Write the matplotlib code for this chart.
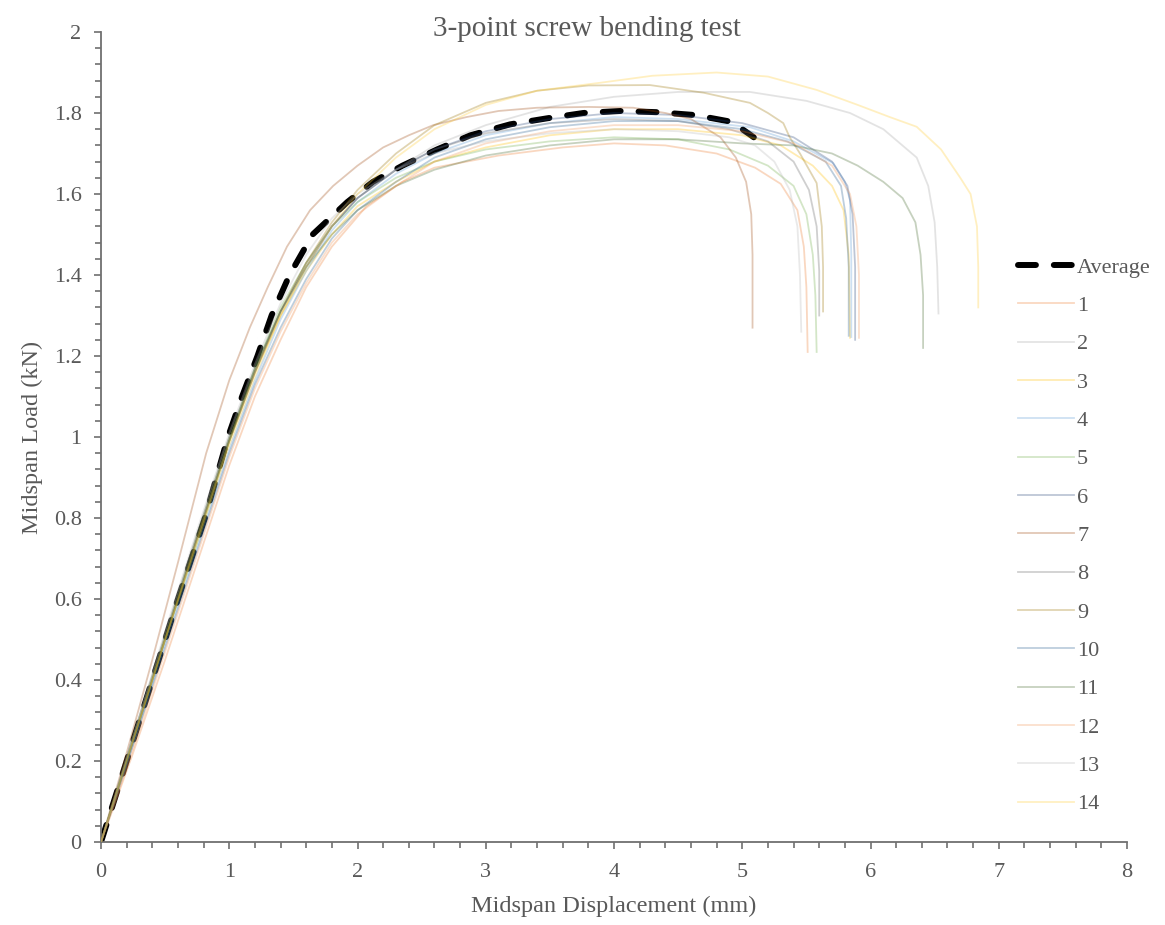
import matplotlib
matplotlib.use('Agg')
from matplotlib import pyplot as plt
from matplotlib.ticker import MultipleLocator, FuncFormatter

matplotlib.rcParams.update({'font.family': 'Liberation Serif', 'font.size': 16})
TXT   = '#595959'
ALPHA = 0.3

title  = '3-point screw bending test'
xlabel = 'Midspan Displacement (mm)'
ylabel = 'Midspan Load (kN)'

# Average curve
avg_x = [0, 0.2, 0.4, 0.6, 0.81, 0.99, 1.1, 1.22, 1.33, 1.47, 1.65, 1.92, 2.12, 2.35,
         2.62, 2.88, 3.19, 3.48, 3.76, 4.05, 4.34, 4.63, 4.92, 5.09]
avg_y = [0, 0.2, 0.4, 0.6, 0.8, 1.0, 1.1, 1.2, 1.3, 1.4, 1.5, 1.58, 1.63, 1.67,
         1.71, 1.745, 1.772, 1.787, 1.80, 1.805, 1.802, 1.795, 1.778, 1.74]

# Individual specimens (x = displacement mm, y = load kN)
t1_x  = [0, 0.25, 0.5, 0.75, 1.0, 1.2, 1.4, 1.6, 1.8, 2.07, 2.35, 2.6, 3.1, 3.6, 4.0, 4.4, 4.8, 5.1, 5.3, 5.43, 5.48, 5.5, 5.51]
t1_y  = [0, 0.22, 0.45, 0.69, 0.93, 1.1, 1.24, 1.37, 1.47, 1.57, 1.63, 1.665, 1.695, 1.715, 1.725, 1.72, 1.70, 1.665, 1.625, 1.56, 1.47, 1.37, 1.21]
t2_x  = [0, 0.25, 0.5, 0.75, 1.0, 1.2, 1.4, 1.6, 1.8, 2.0, 2.3, 2.6, 3.0, 3.5, 4.0, 4.5, 5.06, 5.5, 5.84, 6.1, 6.36, 6.45, 6.5, 6.52, 6.53]
t2_y  = [0, 0.25, 0.5, 0.75, 0.99, 1.16, 1.30, 1.42, 1.52, 1.59, 1.66, 1.72, 1.77, 1.815, 1.84, 1.852, 1.852, 1.83, 1.80, 1.76, 1.69, 1.62, 1.53, 1.42, 1.305]
t3_x  = [0, 0.25, 0.5, 0.75, 1.0, 1.2, 1.4, 1.6, 1.8, 2.0, 2.3, 2.6, 3.0, 3.5, 4.0, 4.5, 5.0, 5.3, 5.55, 5.7, 5.79, 5.83, 5.84]
t3_y  = [0, 0.25, 0.5, 0.75, 0.99, 1.16, 1.30, 1.41, 1.50, 1.57, 1.63, 1.68, 1.715, 1.745, 1.76, 1.76, 1.745, 1.72, 1.67, 1.62, 1.56, 1.45, 1.245]
t4_x  = [0, 0.25, 0.5, 0.75, 1.0, 1.2, 1.4, 1.6, 1.8, 2.0, 2.3, 2.6, 3.0, 3.5, 4.0, 4.5, 5.06, 5.4, 5.71, 5.8, 5.84, 5.85, 5.85]
t4_y  = [0, 0.24, 0.49, 0.73, 0.97, 1.14, 1.29, 1.41, 1.51, 1.58, 1.65, 1.70, 1.745, 1.775, 1.79, 1.785, 1.765, 1.73, 1.676, 1.63, 1.585, 1.45, 1.247]
t5_x  = [0, 0.25, 0.5, 0.75, 1.0, 1.2, 1.4, 1.6, 1.8, 2.0, 2.3, 2.6, 3.0, 3.5, 4.0, 4.5, 4.9, 5.2, 5.4, 5.5, 5.55, 5.57, 5.58]
t5_y  = [0, 0.25, 0.50, 0.74, 0.99, 1.17, 1.32, 1.43, 1.52, 1.58, 1.64, 1.68, 1.71, 1.73, 1.74, 1.735, 1.71, 1.67, 1.62, 1.55, 1.45, 1.35, 1.21]
t6_x  = [0, 0.25, 0.5, 0.75, 1.0, 1.2, 1.4, 1.6, 1.8, 2.0, 2.3, 2.6, 3.0, 3.5, 4.0, 4.5, 5.0, 5.4, 5.7, 5.82, 5.86, 5.88, 5.88]
t6_y  = [0, 0.25, 0.50, 0.75, 0.99, 1.16, 1.31, 1.42, 1.52, 1.59, 1.66, 1.71, 1.755, 1.785, 1.80, 1.795, 1.775, 1.74, 1.68, 1.62, 1.55, 1.42, 1.24]
t7_x  = [0, 0.2, 0.4, 0.6, 0.82, 1.0, 1.16, 1.3, 1.45, 1.63, 1.81, 2.0, 2.2, 2.4, 2.59, 2.85, 3.1, 3.4, 3.8, 4.15, 4.4, 4.6, 4.83, 4.95, 5.03, 5.07, 5.08, 5.08]
t7_y  = [0, 0.22, 0.45, 0.69, 0.96, 1.14, 1.27, 1.37, 1.47, 1.56, 1.62, 1.67, 1.715, 1.745, 1.77, 1.79, 1.805, 1.813, 1.815, 1.813, 1.80, 1.785, 1.74, 1.69, 1.63, 1.55, 1.45, 1.27]
t8_x  = [0, 0.25, 0.5, 0.75, 1.0, 1.2, 1.4, 1.6, 1.8, 2.0, 2.3, 2.6, 3.0, 3.5, 4.0, 4.5, 4.9, 5.2, 5.4, 5.52, 5.58, 5.6, 5.6]
t8_y  = [0, 0.26, 0.51, 0.76, 1.0, 1.17, 1.31, 1.43, 1.52, 1.59, 1.66, 1.71, 1.75, 1.775, 1.785, 1.78, 1.76, 1.73, 1.68, 1.61, 1.52, 1.41, 1.30]
t9_x  = [0, 0.25, 0.5, 0.75, 1.0, 1.2, 1.4, 1.6, 1.8, 2.0, 2.3, 2.6, 3.0, 3.4, 3.8, 4.28, 4.7, 5.06, 5.2, 5.32, 5.37, 5.45, 5.58, 5.62, 5.63, 5.63]
t9_y  = [0, 0.25, 0.5, 0.75, 0.99, 1.16, 1.31, 1.43, 1.53, 1.61, 1.70, 1.77, 1.825, 1.855, 1.868, 1.869, 1.85, 1.825, 1.80, 1.775, 1.74, 1.70, 1.627, 1.52, 1.42, 1.31]
t10_x = [0, 0.25, 0.5, 0.75, 1.0, 1.2, 1.4, 1.6, 1.8, 2.0, 2.3, 2.6, 3.0, 3.5, 4.0, 4.5, 5.0, 5.35, 5.65, 5.77, 5.81, 5.83, 5.83]
t10_y = [0, 0.24, 0.48, 0.72, 0.96, 1.13, 1.27, 1.39, 1.49, 1.56, 1.63, 1.69, 1.735, 1.765, 1.78, 1.78, 1.76, 1.73, 1.68, 1.62, 1.54, 1.42, 1.25]
t11_x = [0, 0.25, 0.5, 0.75, 1.0, 1.2, 1.4, 1.6, 1.8, 2.0, 2.3, 2.6, 3.0, 3.5, 4.0, 4.5, 5.0, 5.4, 5.7, 5.9, 6.1, 6.25, 6.35, 6.39, 6.41, 6.41]
t11_y = [0, 0.26, 0.51, 0.76, 1.0, 1.17, 1.31, 1.42, 1.50, 1.56, 1.62, 1.66, 1.695, 1.72, 1.735, 1.735, 1.725, 1.72, 1.70, 1.67, 1.63, 1.59, 1.53, 1.45, 1.35, 1.22]
t12_x = [0, 0.25, 0.5, 0.75, 1.0, 1.2, 1.4, 1.6, 1.8, 2.0, 2.3, 2.6, 3.0, 3.5, 4.0, 4.5, 5.0, 5.4, 5.7, 5.84, 5.89, 5.91, 5.91]
t12_y = [0, 0.23, 0.47, 0.71, 0.95, 1.12, 1.26, 1.38, 1.48, 1.55, 1.62, 1.68, 1.725, 1.755, 1.77, 1.77, 1.755, 1.725, 1.67, 1.60, 1.52, 1.40, 1.245]
t13_x = [0, 0.25, 0.5, 0.75, 1.0, 1.2, 1.4, 1.6, 1.8, 2.0, 2.3, 2.6, 3.0, 3.5, 4.0, 4.5, 4.9, 5.1, 5.25, 5.37, 5.43, 5.45, 5.46]
t13_y = [0, 0.26, 0.52, 0.77, 1.01, 1.18, 1.33, 1.45, 1.54, 1.60, 1.66, 1.70, 1.73, 1.75, 1.76, 1.755, 1.74, 1.72, 1.68, 1.61, 1.52, 1.40, 1.26]
t14_x = [0, 0.25, 0.5, 0.75, 1.0, 1.2, 1.4, 1.6, 1.8, 2.0, 2.3, 2.6, 3.0, 3.4, 3.9, 4.3, 4.8, 5.2, 5.58, 5.9, 6.15, 6.36, 6.55, 6.7, 6.78, 6.83, 6.84, 6.84]
t14_y = [0, 0.25, 0.5, 0.74, 0.98, 1.15, 1.30, 1.42, 1.52, 1.60, 1.69, 1.76, 1.82, 1.855, 1.875, 1.892, 1.90, 1.89, 1.857, 1.82, 1.79, 1.766, 1.71, 1.64, 1.60, 1.52, 1.42, 1.32]

tests_x = [t1_x, t2_x, t3_x, t4_x, t5_x, t6_x, t7_x, t8_x, t9_x, t10_x, t11_x, t12_x, t13_x, t14_x]
tests_y = [t1_y, t2_y, t3_y, t4_y, t5_y, t6_y, t7_y, t8_y, t9_y, t10_y, t11_y, t12_y, t13_y, t14_y]
labels  = [str(i) for i in range(1, 15)]
colors  = ['#ED7D31', '#A5A5A5', '#FFC000', '#5B9BD5', '#70AD47', '#264478', '#9E480E',
           '#636363', '#997300', '#255E91', '#43682B', '#F1975A', '#B7B7B7', '#FFCD33']

fig = plt.figure(figsize=(11.65, 9.25), dpi=100)
ax  = fig.add_axes([0.0867, 0.0897, 0.8807, 0.8757])

ax.plot(avg_x, avg_y, color='black', lw=4.3, dashes=(3.0, 3.0),
        dash_capstyle='round', solid_capstyle='round', label='Average', zorder=2)
for xx, yy, c, lab in zip(tests_x, tests_y, colors, labels):
  ax.plot(xx, yy, color=c, lw=1.3, alpha=ALPHA, label=lab, zorder=3)

ax.set_xlim(0, 8)
ax.set_ylim(0, 2)
ax.xaxis.set_major_locator(MultipleLocator(1))
ax.xaxis.set_minor_locator(MultipleLocator(0.2))
ax.yaxis.set_major_locator(MultipleLocator(0.2))
ax.yaxis.set_minor_locator(MultipleLocator(0.04))
ax.yaxis.set_major_formatter(FuncFormatter(lambda v, p: f'{v:g}'))
ax.xaxis.set_major_formatter(FuncFormatter(lambda v, p: f'{v:g}'))

for s in ['top', 'right']:
  ax.spines[s].set_visible(False)
for s in ['left', 'bottom']:
  ax.spines[s].set_color('#707070')
  ax.spines[s].set_linewidth(1.3)
ax.tick_params(which='both', direction='out', color='#707070', width=1.2, labelcolor=TXT, labelsize=16)
ax.tick_params(axis='y', which='major', length=5, pad=9)
ax.tick_params(axis='x', which='major', length=5, pad=10)
ax.tick_params(which='minor', length=4)

ax.set_xlabel(xlabel, color=TXT, fontsize=17.5, labelpad=10)
ax.set_ylabel(ylabel, color=TXT, fontsize=17.5, labelpad=8)
fig.text(0.504, 0.969, title, color=TXT, fontsize=21, ha='center', va='center')

leg = fig.legend(loc='upper left', bbox_to_anchor=(0.874, 0.722), frameon=False,
                 fontsize=16, labelcolor=TXT, handlelength=2.5, handletextpad=0.15,
                 labelspacing=0.8, borderpad=0, borderaxespad=0)

fig.savefig('out.png', dpi=100)
